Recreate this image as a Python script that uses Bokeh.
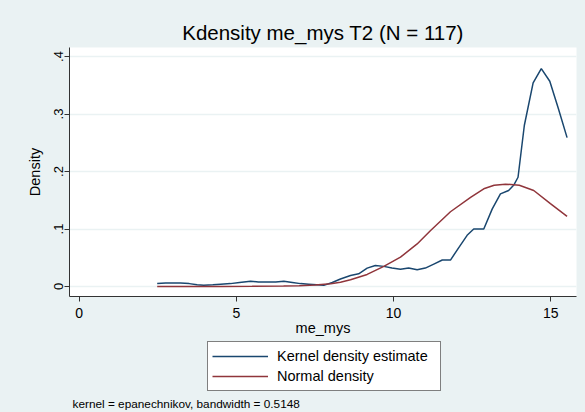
from bokeh.plotting import figure
from bokeh.layouts import column
from bokeh.models import Range1d, FixedTicker, Legend, LegendItem, Label
from bokeh.embed import file_html
from bokeh.resources import INLINE

FONT = "Liberation Sans"

title_text = "Kdensity me_mys T2 (N = 117)"
x_label = "me_mys"
y_label = "Density"
note_text = "kernel = epanechnikov, bandwidth = 0.5148"
series_names = ["Kernel density estimate", "Normal density"]

x_ticks = [0, 5, 10, 15]
y_ticks = [0, 0.1, 0.2, 0.3, 0.4]
y_tick_labels = ["0", ".1", ".2", ".3", ".4"]

kde_x = [2.48, 2.75, 3.01, 3.22, 3.5, 3.75, 3.96, 4.25, 4.5, 4.81, 5.1, 5.45,
         5.7, 5.98, 6.25, 6.51, 6.78, 7.04, 7.3, 7.55, 7.78, 8.05, 8.31, 8.63,
         8.89, 9.16, 9.42, 9.69, 9.95, 10.22, 10.48, 10.75, 11.01, 11.28, 11.55,
         11.81, 12.08, 12.34, 12.55, 12.87, 13.14, 13.40, 13.66, 13.82, 13.96,
         14.16, 14.44, 14.70, 14.97, 15.24, 15.52]
kde_y = [0.005, 0.006, 0.006, 0.006, 0.005, 0.003, 0.002, 0.003, 0.004, 0.005,
         0.007, 0.009, 0.008, 0.008, 0.008, 0.009, 0.007, 0.005, 0.004, 0.003,
         0.002, 0.007, 0.013, 0.019, 0.022, 0.032, 0.0365, 0.035, 0.032, 0.030,
         0.032, 0.029, 0.032, 0.039, 0.046, 0.046, 0.068, 0.089, 0.100, 0.100,
         0.135, 0.161, 0.167, 0.176, 0.190, 0.280, 0.354, 0.379, 0.357, 0.31,
         0.259]

norm_x = [2.48, 3.5, 4.5, 5.5, 6.5, 7.0, 7.5, 8.0, 8.31, 8.63, 9.16, 9.69,
          10.22, 10.75, 11.17, 11.81, 12.45, 12.87, 13.2, 13.56, 14.0, 14.46,
          14.99, 15.52]
norm_y = [0.0, 0.0, 0.0002, 0.0004, 0.0009, 0.0015, 0.0027, 0.0048, 0.0075,
          0.0117, 0.021, 0.035, 0.051, 0.074, 0.097, 0.130, 0.155, 0.170, 0.176,
          0.178, 0.176, 0.167, 0.144, 0.122]

BG = "#eaf2f3"
BLUE = "#1a476f"
RED = "#90353b"
W = 585
H1 = 340
H2 = 72
FL, FR = 69, 576   # frame left / right in page pixels

# ---------------- main plot ----------------
p = figure(width=W, height=H1, output_backend="svg", toolbar_location=None,
           x_range=Range1d(-0.31, 15.82), y_range=Range1d(-0.0174, 0.4157),
           min_border_left=FL, min_border_right=W - FR, min_border_top=47,
           min_border_bottom=H1 - 296, title=title_text)
p.border_fill_color = BG
p.background_fill_color = "white"
p.outline_line_color = None

p.title.align = "center"
p.title.text_font = FONT
p.title.text_font_size = "20.5px"
p.title.text_font_style = "normal"
p.title.text_color = "black"
p.title.standoff = 7

p.line(kde_x, kde_y, line_color=BLUE, line_width=1.5)
p.line(norm_x, norm_y, line_color=RED, line_width=1.5)

p.xaxis.ticker = FixedTicker(ticks=x_ticks)
p.yaxis.ticker = FixedTicker(ticks=y_ticks)
p.yaxis.major_label_overrides = {t: l for t, l in zip(y_ticks, y_tick_labels)}
p.yaxis.major_label_orientation = "vertical"
for ax in (p.xaxis, p.yaxis):
    ax.axis_line_color = "#333333"
    ax.major_tick_line_color = "#333333"
    ax.major_tick_out = 5
    ax.major_tick_in = 0
    ax.minor_tick_line_color = None
    ax.major_label_text_font = FONT
    ax.major_label_text_color = "black"
    ax.axis_label_text_font = FONT
    ax.axis_label_text_font_style = "normal"
    ax.axis_label_text_color = "black"
p.xaxis.major_label_text_font_size = "14px"
p.yaxis.major_label_text_font_size = "13px"
p.xaxis.axis_label = x_label
p.yaxis.axis_label = y_label
p.xaxis.axis_label_text_font_size = "14.5px"
p.yaxis.axis_label_text_font_size = "14.5px"
p.xaxis.major_label_standoff = 6
p.yaxis.major_label_standoff = 1
p.xaxis.axis_label_standoff = -1
p.yaxis.axis_label_standoff = 9

p.xgrid.grid_line_color = None
p.ygrid.grid_line_color = BG
p.ygrid.grid_line_width = 1.5

# ---------------- legend + note strip ----------------
# frame aligned with the main plot's frame; x data = page pixels, y data = pixels from strip top
q = figure(width=W, height=H2, output_backend="svg", toolbar_location=None,
           x_range=Range1d(FL, FR), y_range=Range1d(H2, 0),
           min_border_left=FL, min_border_right=W - FR, min_border_top=0,
           min_border_bottom=0, x_axis_type=None, y_axis_type=None)
q.border_fill_color = BG
q.background_fill_color = BG
q.outline_line_color = None
q.grid.visible = False

# legend proxies: same series, lying outside this strip's visible range
lk = q.line(kde_x, kde_y, line_color=BLUE, line_width=1.5)
ln = q.line(norm_x, norm_y, line_color=RED, line_width=1.5)

legend = Legend(items=[LegendItem(label=series_names[0], renderers=[lk]),
                       LegendItem(label=series_names[1], renderers=[ln])],
                location=(207 - FL, 21), orientation="vertical")
legend.label_text_font = FONT
legend.label_text_font_size = "14.5px"
legend.label_text_color = "black"
legend.glyph_width = 56
legend.glyph_height = 20
legend.label_height = 20
legend.label_width = 159
legend.label_standoff = 9
legend.padding = 4
legend.spacing = 0
legend.margin = 0
legend.border_line_color = "black"
legend.border_line_width = 1
legend.background_fill_color = "white"
legend.background_fill_alpha = 1
q.add_layout(legend, "center")

q.add_layout(Label(x=72, y=63, text=note_text, text_font=FONT,
                   text_font_size="11.8px", text_color="black",
                   text_align="left", text_baseline="middle"))

layout = column(p, q, spacing=0, styles={"background-color": BG})
open("out.html", "w").write(file_html(layout, INLINE))
